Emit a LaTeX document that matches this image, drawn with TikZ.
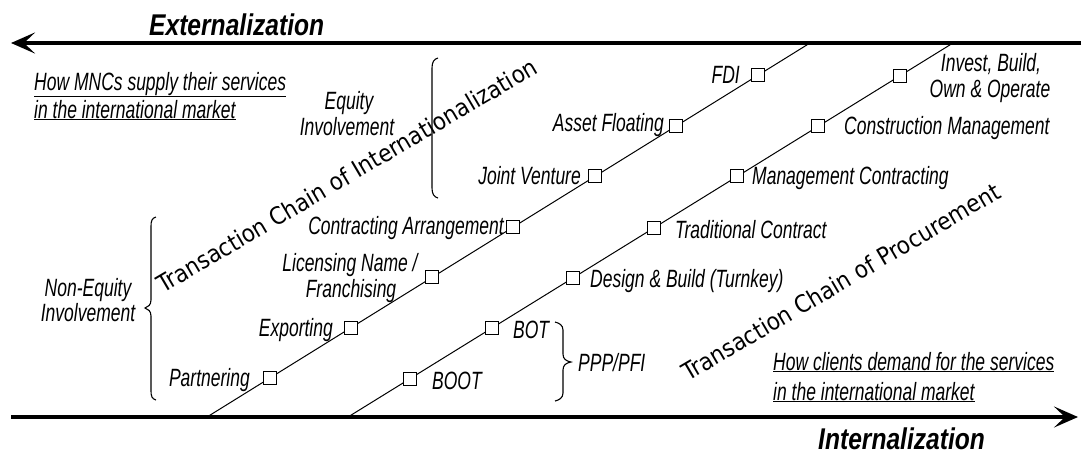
\documentclass[tikz,border=0pt]{standalone}
\usepackage{fontspec}
\setmainfont{Liberation Sans}
\newfontfamily\labfont{Liberation Sans}[FakeStretch=0.70]
\newfontfamily\headfont{Liberation Sans}[FakeStretch=0.82]
\newfontfamily\chainfont{DejaVu Sans}[FakeStretch=0.9]
\usetikzlibrary{arrows.meta}
\begin{document}
\begin{tikzpicture}[x=1pt,y=-1pt,
  lab/.style={font=\labfont\itshape\fontsize{25}{29}\selectfont, inner sep=0pt},
  head/.style={font=\headfont\bfseries\itshape\fontsize{30}{34}\selectfont, inner sep=0pt},
  chain/.style={font=\chainfont\fontsize{24}{28}\selectfont, inner sep=0pt, rotate=30.5, anchor=base west},
  stagebox/.style={draw, fill=white, minimum size=13pt, inner sep=0pt, line width=1.2pt},
  chainline/.style={line width=1pt},
  axis/.style={line width=4.5pt, -{Stealth[length=24pt, width=21pt, inset=11pt]}},
  bracepath/.style={line width=1.1pt}]
\useasboundingbox (0,0) rectangle (1083,456);

% axes
\coordinate (ext-start) at (1081,43);
\coordinate (ext-end) at (11,43);
\coordinate (int-start) at (11,417);
\coordinate (int-end) at (1078,417);
\draw[axis] (ext-start) -- (ext-end);
\draw[axis] (int-start) -- (int-end);
\node[head, anchor=base west] (ext) at (149,35) {Externalization};
\node[head, anchor=base west] (int) at (818,449) {Internalization};

% transaction chains
\coordinate (a1) at (207,417);
\coordinate (b1) at (810,43);
\coordinate (a2) at (348,417);
\coordinate (b2) at (953,43);
\draw[chainline] (a1) -- (b1);
\draw[chainline] (a2) -- (b2);

% chain titles
\node[chain] (t-intl) at (163,294) {Transaction Chain of Internationalization};
\node[chain] (t-proc) at (688,382) {Transaction Chain of Procurement};

% internationalization chain stages
\node[stagebox] (p1) at (270,378) {};
\node[stagebox] (p2) at (351,328) {};
\node[stagebox] (p3) at (432,277) {};
\node[stagebox] (p4) at (513,227) {};
\node[stagebox] (p5) at (595,176) {};
\node[stagebox] (p6) at (676,126) {};
\node[stagebox] (p7) at (758,75) {};

% procurement chain stages
\node[stagebox] (q1) at (410,379) {};
\node[stagebox] (q2) at (492,328) {};
\node[stagebox] (q3) at (573,278) {};
\node[stagebox] (q4) at (654,228) {};
\node[stagebox] (q5) at (737,176) {};
\node[stagebox] (q6) at (818,126) {};
\node[stagebox] (q7) at (900,76) {};

% stage labels, internationalization
\node[lab, anchor=base east] (l-partnering) at (250,386) {Partnering};
\node[lab, anchor=base east] (l-exporting) at (333,336) {Exporting};
\node[lab, anchor=base] (l-licensing) at (350,271) {Licensing Name /};
\node[lab, anchor=base] (l-franchising) at (351,297) {Franchising};
\node[lab, anchor=base east] (l-contracting) at (504,234) {Contracting Arrangement};
\node[lab, anchor=base east] (l-jv) at (581,184) {Joint Venture};
\node[lab, anchor=base east] (l-asset) at (664,131) {Asset Floating};
\node[lab, anchor=base east] (l-fdi) at (740,83) {FDI};

% stage labels, procurement
\node[lab, anchor=base west] (l-boot) at (432,389) {BOOT};
\node[lab, anchor=base west] (l-bot) at (513,338) {BOT};
\node[lab, anchor=base west] (l-design) at (590,287) {Design \& Build (Turnkey)};
\node[lab, anchor=base west] (l-traditional) at (675,238) {Traditional Contract};
\node[lab, anchor=base west] (l-management) at (752,184) {Management Contracting};
\node[lab, anchor=base west] (l-construction) at (844,134) {Construction Management};
\node[lab, anchor=base] (l-invest) at (991,71) {Invest, Build,};
\node[lab, anchor=base] (l-own) at (990,97) {Own \& Operate};

% groupings
\node[lab, anchor=base] (l-equity) at (349,109) {Equity};
\node[lab, anchor=base] (l-equity2) at (347,135) {Involvement};
\node[lab, anchor=base] (l-nonequity) at (88,296) {Non-Equity};
\node[lab, anchor=base] (l-nonequity2) at (88,321) {Involvement};
\node[lab, anchor=base west] (l-ppp) at (578,371) {PPP/PFI};

% bracket beside the equity modes
\draw[bracepath] (438,58) .. controls (434,59) and (432,62) .. (432,68)
  -- (432,188) .. controls (432,194) and (434,197) .. (438,198);
% brace beside the non-equity modes
\draw[bracepath] (156,217) .. controls (152,218) and (151,221) .. (151,226)
  -- (151,300) .. controls (151,305) and (148,307) .. (145,308)
  .. controls (148,309) and (151,311) .. (151,316)
  -- (151,391) .. controls (151,396) and (152,399) .. (156,400);
% brace grouping BOT and BOOT
\draw[bracepath] (555,322) .. controls (559,323) and (563,325) .. (563,330)
  -- (563,354) .. controls (563,359) and (566,361) .. (571,362)
  .. controls (566,363) and (563,365) .. (563,370)
  -- (563,393) .. controls (563,398) and (559,400) .. (555,401);

% perspectives
\node[lab, anchor=base west] (l-mnc1) at (34,90) {\underline{How MNCs supply their services}};
\node[lab, anchor=base west] (l-mnc2) at (34,118) {\underline{in the international market}};
\node[lab, anchor=base west] (l-cli1) at (773,370) {\underline{How clients demand for the services}};
\node[lab, anchor=base west] (l-cli2) at (773,400) {\underline{in the international market}};
\end{tikzpicture}
\end{document}
